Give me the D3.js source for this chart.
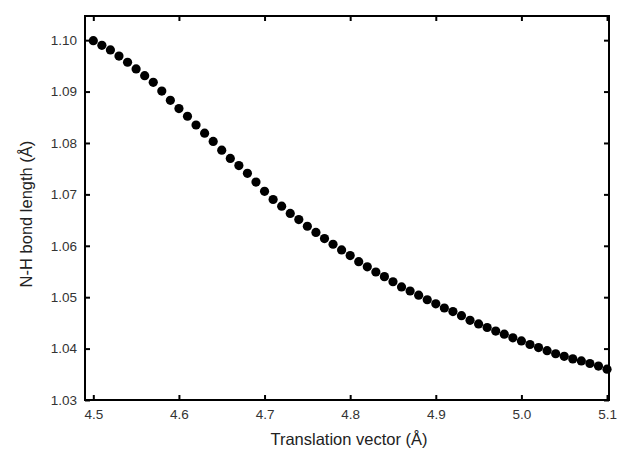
<!DOCTYPE html>
<html>
<head>
<meta charset="utf-8">
<script src="https://cdn.jsdelivr.net/npm/d3@7"></script>
<style>
  body { margin: 0; background: #fff; }
  svg text { font-family: "Liberation Sans", Arial, sans-serif; }
</style>
</head>
<body>
<div id="chart"></div>
<script>
// translation vector (Å)
const translation = [
    4.50, 4.51, 4.52, 4.53, 4.54, 4.55, 4.56, 4.57, 4.58, 4.59,
    4.60, 4.61, 4.62, 4.63, 4.64, 4.65, 4.66, 4.67, 4.68, 4.69,
    4.70, 4.71, 4.72, 4.73, 4.74, 4.75, 4.76, 4.77, 4.78, 4.79,
    4.80, 4.81, 4.82, 4.83, 4.84, 4.85, 4.86, 4.87, 4.88, 4.89,
    4.90, 4.91, 4.92, 4.93, 4.94, 4.95, 4.96, 4.97, 4.98, 4.99,
    5.00, 5.01, 5.02, 5.03, 5.04, 5.05, 5.06, 5.07, 5.08, 5.09,
    5.10
];

// N-H bond length (Å)
const bondLength = [
    1.0999, 1.0990, 1.0981, 1.0969, 1.0957, 1.0944, 1.0931, 1.0918, 1.0901, 1.0883,
    1.0867, 1.0852, 1.0835, 1.0819, 1.0803, 1.0786, 1.0770, 1.0756, 1.0741, 1.0724,
    1.0706, 1.0690, 1.0677, 1.0663, 1.0651, 1.0638, 1.0626, 1.0614, 1.0603, 1.0592,
    1.0581, 1.0569, 1.0559, 1.0549, 1.0540, 1.0530, 1.0520, 1.0512, 1.0504, 1.0495,
    1.0487, 1.0479, 1.0472, 1.0464, 1.0455, 1.0448, 1.0441, 1.0434, 1.0428, 1.0421,
    1.0415, 1.0408, 1.0402, 1.0396, 1.0390, 1.0385, 1.0380, 1.0376, 1.0371, 1.0366,
    1.0360
];

const xTicks = [4.5, 4.6, 4.7, 4.8, 4.9, 5.0, 5.1];
const yTicks = [1.03, 1.04, 1.05, 1.06, 1.07, 1.08, 1.09, 1.10];

const W = 617, H = 457;
const margin = { top: 16, right: 8, bottom: 57, left: 85 },
      width = W - margin.left - margin.right,
      height = H - margin.top - margin.bottom;

const svg = d3.select("#chart")
              .append("svg")
              .attr("width", W)
              .attr("height", H);

const g = svg.append("g")
             .attr("transform", `translate(${margin.left},${margin.top})`);

const x = d3.scaleLinear()
            .domain([4.4903, 5.1023])
            .range([0, width]);

const y = d3.scaleLinear()
            .domain([1.03, 1.1047])
            .range([height, 0]);

const data = translation.map((t, i) => ({ t: t, v: bondLength[i] }));

// Bottom axis (labels + inward ticks)
g.append("g")
 .attr("transform", `translate(0,${height})`)
 .call(d3.axisBottom(x).tickValues(xTicks).tickSizeInner(-5).tickSizeOuter(0)
         .tickPadding(9).tickFormat(d3.format(".1f")))
 .call(a => a.select(".domain").remove());

// Top axis (ticks only)
g.append("g")
 .call(d3.axisTop(x).tickValues(xTicks).tickSizeInner(-5).tickSizeOuter(0).tickFormat(""))
 .call(a => a.select(".domain").remove());

// Left axis
g.append("g")
 .call(d3.axisLeft(y).tickValues(yTicks).tickSizeInner(-5).tickSizeOuter(0)
         .tickPadding(8).tickFormat(d3.format(".2f")))
 .call(a => a.select(".domain").remove());

// Right axis (ticks only)
g.append("g")
 .attr("transform", `translate(${width},0)`)
 .call(d3.axisRight(y).tickValues(yTicks).tickSizeInner(-5).tickSizeOuter(0).tickFormat(""))
 .call(a => a.select(".domain").remove());

g.selectAll(".tick line").attr("stroke", "#000").attr("stroke-width", 2);
g.selectAll(".tick text").attr("fill", "#333").style("font-size", "13.5px");

// Frame
g.append("rect")
 .attr("width", width)
 .attr("height", height)
 .attr("fill", "none")
 .attr("stroke", "#000")
 .attr("stroke-width", 2);

// Points
g.selectAll(".dot")
 .data(data)
 .join("circle")
 .attr("cx", d => x(d.t))
 .attr("cy", d => y(d.v))
 .attr("r", 4.6)
 .attr("fill", "#000");

// Axis titles
svg.append("text")
   .attr("x", margin.left + width / 2 + 2)
   .attr("y", 445)
   .attr("text-anchor", "middle")
   .style("font-size", "16.5px")
   .attr("fill", "#222")
   .text("Translation vector (Å)");

svg.append("text")
   .attr("transform", `translate(32,${margin.top + height / 2 + 6}) rotate(-90)`)
   .attr("text-anchor", "middle")
   .style("font-size", "16.5px")
   .attr("fill", "#222")
   .text("N-H bond length (Å)");
</script>
</body>
</html>
